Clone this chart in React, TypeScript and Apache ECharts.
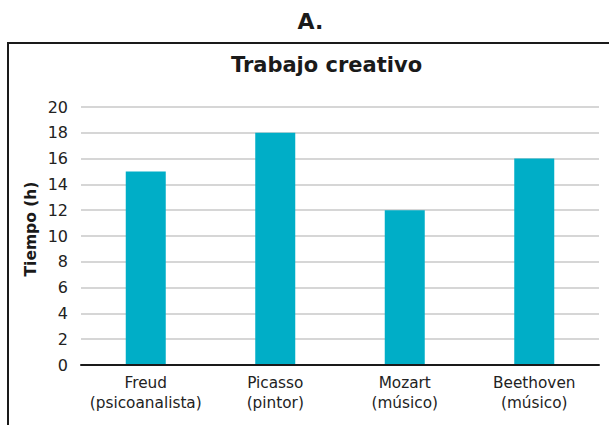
import React, { useEffect, useRef } from "react";
import * as echarts from "echarts";

const categories = ["Freud\n(psicoanalista)", "Picasso\n(pintor)", "Mozart\n(músico)", "Beethoven\n(músico)"];
const values = [15, 18, 12, 16];
const yTicks = { min: 0, max: 20, interval: 2 };
const chartTitle = "Trabajo creativo";
const panelLabel = "A.";
const yName = "Tiempo (h)";

const FONT = "DejaVu Sans";
const TEXT = "#222222";

export default function App() {
  const ref = useRef<HTMLDivElement>(null);
  useEffect(() => {
    if (!ref.current) return;
    const chart = echarts.init(ref.current, null, { renderer: "svg" });
    chart.setOption({
      animation: false,
      backgroundColor: "#ffffff",
      textStyle: { fontFamily: FONT },
      graphic: [
        {
          type: "rect",
          shape: { x: 8, y: 43, width: 640, height: 420 },
          style: { fill: "none", stroke: "#1a1a1a", lineWidth: 2 },
          z: 100,
        },
        {
          type: "text",
          x: 310.5,
          y: 21,
          style: { text: panelLabel, font: `bold 22px '${FONT}'`, fill: "#1a1a1a", align: "center", verticalAlign: "middle" },
        },
        {
          type: "text",
          x: 326.5,
          y: 65,
          style: { text: chartTitle, font: `bold 21px '${FONT}'`, fill: "#1a1a1a", align: "center", verticalAlign: "middle" },
        },
        {
          type: "text",
          x: 31,
          y: 229,
          rotation: Math.PI / 2,
          style: { text: yName, font: `bold 15.5px '${FONT}'`, fill: "#1a1a1a", align: "center", verticalAlign: "middle" },
        },
      ],
      grid: { left: 81, right: 10, top: 107, bottom: 60 },
      xAxis: {
        type: "category",
        data: categories,
        axisLine: { show: true, lineStyle: { color: "#1a1a1a", width: 2 } },
        axisTick: { show: false },
        axisLabel: { color: TEXT, fontSize: 15.3, lineHeight: 20, margin: 8, fontFamily: FONT, interval: 0 },
        z: 10,
      },
      yAxis: {
        type: "value",
        min: yTicks.min,
        max: yTicks.max,
        interval: yTicks.interval,
        axisLine: { show: false },
        axisTick: { show: false },
        axisLabel: { color: TEXT, fontSize: 16, margin: 13, fontFamily: FONT },
        splitLine: { show: true, lineStyle: { color: "#c8c8c8", width: 1.5 } },
      },
      series: [
        {
          type: "bar",
          data: values,
          barWidth: 40,
          itemStyle: { color: "#00aec7" },
          z: 5,
        },
      ],
    });
    return () => chart.dispose();
  }, []);
  return <div ref={ref} style={{ position: "fixed", left: 0, top: 0, width: 609, height: 425 }} />;
}
